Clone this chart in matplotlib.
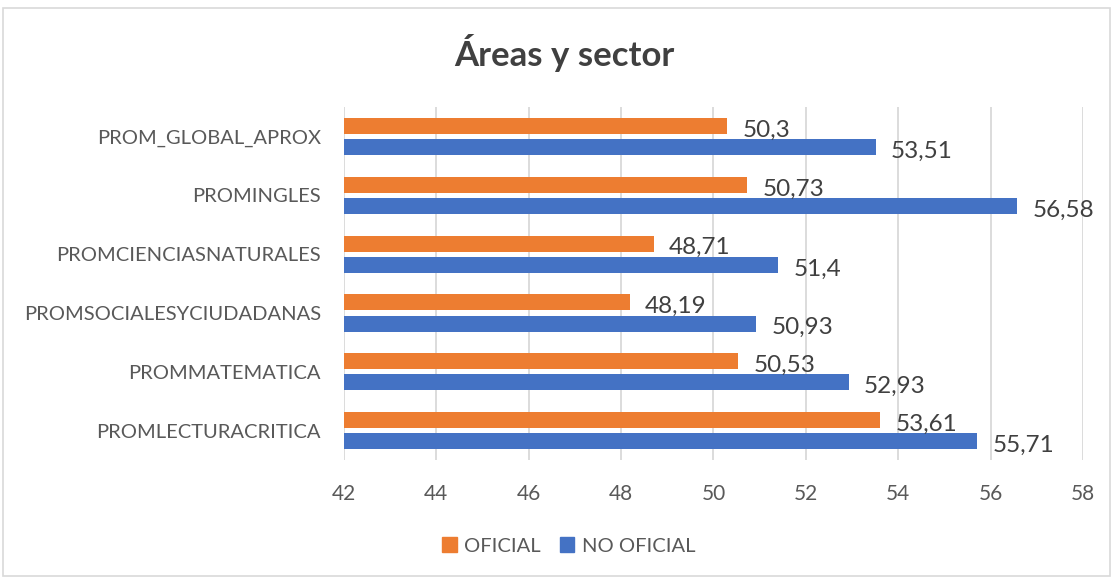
import matplotlib
matplotlib.use("Agg")
import matplotlib.pyplot as plt
from matplotlib.patches import Rectangle, Patch
import numpy as np

categories = ["PROMLECTURACRITICA", "PROMMATEMATICA", "PROMSOCIALESYCIUDADANAS",
              "PROMCIENCIASNATURALES", "PROMINGLES", "PROM_GLOBAL_APROX"]
oficial = [53.61, 50.53, 48.19, 48.71, 50.73, 50.3]
no_oficial = [55.71, 52.93, 50.93, 51.4, 56.58, 53.51]
series_names = ["OFICIAL", "NO OFICIAL"]
xticks = [42, 44, 46, 48, 50, 52, 54, 56, 58]
title = "Áreas y sector"

def fmt(v):
    s = f"{v:.2f}".rstrip("0").rstrip(".")
    return s.replace(".", ",")

plt.rcParams['font.family'] = ['Lato', 'DejaVu Sans']
ORANGE = "#ED7D31"
BLUE = "#4472C4"
TXT = "#404040"
TICK = "#595959"

fig = plt.figure(figsize=(11.13, 5.79), dpi=100)
fig.patches.append(Rectangle((0.003, 0.005), 0.994, 0.982, transform=fig.transFigure,
                             fill=False, edgecolor="#d9d9d9", linewidth=1.2))
ax = fig.add_axes([0.309, 0.2055, 0.664, 0.6095])

y = np.arange(len(categories))
h = 0.27
off = 0.18
ax.barh(y + off, oficial, height=h, color=ORANGE, left=0, zorder=3)
ax.barh(y - off, no_oficial, height=h, color=BLUE, left=0, zorder=3)

ax.set_xlim(42, 58)
ax.set_ylim(-0.5, len(categories) - 0.5)
ax.set_xticks(xticks)
ax.set_xticklabels([str(t) for t in xticks], fontsize=15, color=TICK)
ax.set_yticks(y)
ax.set_yticklabels(categories, fontsize=14.5, color=TICK)
ax.tick_params(axis='both', length=0)
ax.tick_params(axis='x', pad=17)
ax.tick_params(axis='y', pad=16.5)
for s in ax.spines.values():
    s.set_visible(False)
ax.grid(axis='x', color="#d9d9d9", linewidth=1.3, zorder=0)
ax.set_axisbelow(True)

for yi, v in zip(y, oficial):
    ax.annotate(fmt(v), (v, yi + off), xytext=(11, -3), textcoords='offset points',
                va='center', ha='left', fontsize=17.5, color=TXT, zorder=4)
for yi, v in zip(y, no_oficial):
    ax.annotate(fmt(v), (v, yi - off), xytext=(11, -3), textcoords='offset points',
                va='center', ha='left', fontsize=17.5, color=TXT, zorder=4)

fig.text(0.507, 0.908, title, ha='center', va='center', fontsize=25,
         fontweight='bold', color=TXT)

handles = [Patch(color=ORANGE), Patch(color=BLUE)]
fig.legend(handles, series_names, loc='center', bbox_to_anchor=(0.511, 0.057),
           ncol=2, frameon=False, fontsize=14.5, labelcolor=TICK,
           handlelength=0.7, handleheight=0.7, handletextpad=0.35, columnspacing=1.0)

fig.savefig("out.png", dpi=100)
